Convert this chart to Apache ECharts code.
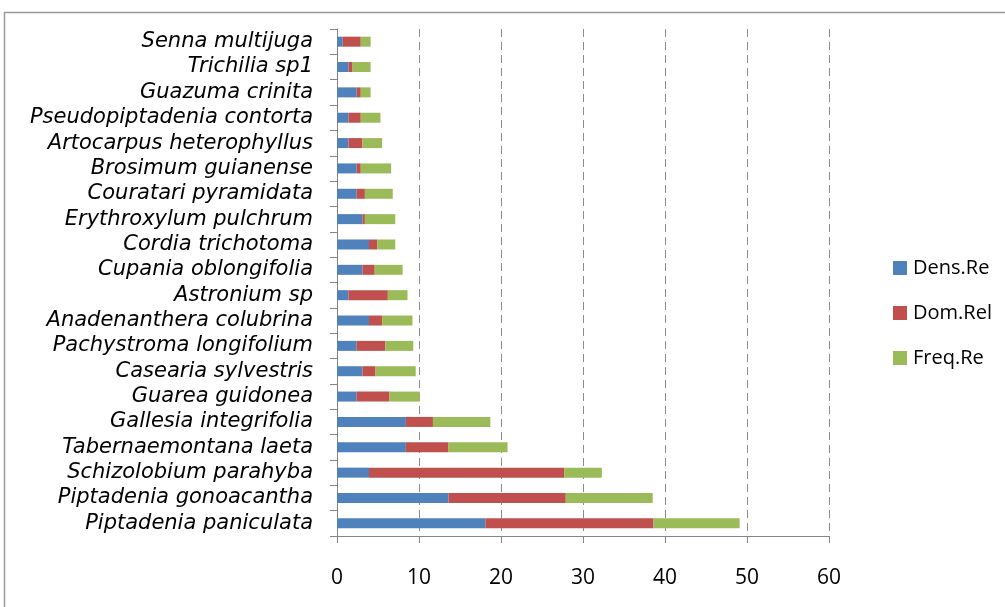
<!DOCTYPE html>
<html>
<head>
<meta charset="utf-8">
<script src="https://cdn.jsdelivr.net/npm/echarts@6/dist/echarts.min.js"></script>
<style>
  html, body { margin: 0; padding: 0; background: #fff; }
  #main { width: 1005px; height: 607px; }
</style>
</head>
<body>
<div id="main"></div>
<script>
'use strict';
// species, bottom to top
var species = [
  'Piptadenia paniculata', 'Piptadenia gonoacantha', 'Schizolobium parahyba',
  'Tabernaemontana laeta', 'Gallesia integrifolia', 'Guarea guidonea',
  'Casearia sylvestris', 'Pachystroma longifolium', 'Anadenanthera colubrina',
  'Astronium sp', 'Cupania oblongifolia', 'Cordia trichotoma',
  'Erythroxylum pulchrum', 'Couratari pyramidata', 'Brosimum guianense',
  'Artocarpus heterophyllus', 'Pseudopiptadenia contorta', 'Guazuma crinita',
  'Trichilia sp1', 'Senna multijuga'
];
var densRe  = [18.1, 13.6, 3.9, 8.4, 8.4, 2.4, 3.1, 2.4, 3.9, 1.4, 3.1, 3.9, 3.1, 2.4, 2.4, 1.4, 1.4, 2.4, 1.4, 0.7];
var domRel  = [20.5, 14.3, 23.8, 5.2, 3.3, 4.0, 1.6, 3.5, 1.6, 4.8, 1.5, 1.0, 0.3, 1.0, 0.5, 1.7, 1.5, 0.5, 0.5, 2.2];
var freqRe  = [10.5, 10.6, 4.6, 7.2, 7.0, 3.7, 4.9, 3.4, 3.7, 2.4, 3.4, 2.2, 3.7, 3.4, 3.7, 2.4, 2.4, 1.2, 2.2, 1.2];
var xTicks = [0, 10, 20, 30, 40, 50, 60];

var chart = echarts.init(document.getElementById('main'));
var axisGrey = '#868686';

function bar(name, data, color) {
  return {
    name: name, type: 'bar', stack: 'total', data: data,
    barWidth: 10, itemStyle: { color: color }
  };
}

chart.setOption({
  animation: false,
  textStyle: { fontFamily: 'Open Sans' },
  graphic: [{
    type: 'rect', shape: { x: 4.5, y: 12.5, width: 1010, height: 610 },
    style: { fill: 'none', stroke: '#9a9a9a', lineWidth: 1.5 }, silent: true
  }],
  grid: { left: 337, top: 29, width: 492, height: 507, containLabel: false },
  legend: {
    orient: 'vertical', left: 888, top: 253,
    itemWidth: 14, itemHeight: 14, itemGap: 25,
    icon: 'rect',
    textStyle: { fontSize: 20, color: '#000', lineHeight: 14, padding: [0, 0, 0, 1] },
    data: ['Dens.Re', 'Dom.Rel', 'Freq.Re']
  },
  xAxis: {
    type: 'value', min: xTicks[0], max: xTicks[xTicks.length - 1], interval: 10,
    axisLine: { show: true, lineStyle: { color: axisGrey, width: 1 } },
    axisTick: { show: true, length: 7, lineStyle: { color: axisGrey } },
    axisLabel: { fontSize: 21, color: '#000', margin: 32 },
    splitLine: { show: true, lineStyle: { color: '#8c8c8c', type: [8, 5], width: 1 } }
  },
  yAxis: {
    type: 'category', data: species,
    axisLine: { show: true, lineStyle: { color: axisGrey, width: 1 } },
    axisTick: { show: true, length: 7, lineStyle: { color: axisGrey } },
    axisLabel: {
      fontSize: 21, fontStyle: 'italic', fontFamily: 'DejaVu Sans',
      color: '#000', margin: 24, interval: 0
    }
  },
  series: [
    bar('Dens.Re', densRe, '#4F81BD'),
    bar('Dom.Rel', domRel, '#C0504D'),
    bar('Freq.Re', freqRe, '#9BBB59')
  ]
});
</script>
</body>
</html>
